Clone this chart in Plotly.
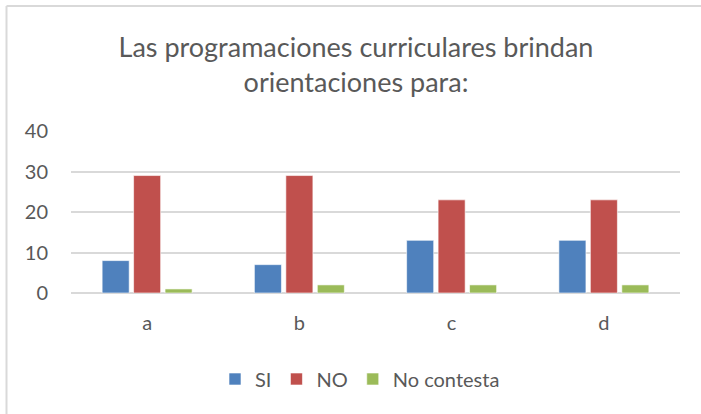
import plotly.graph_objects as go

categories = ["a", "b", "c", "d"]
si = [8, 7, 13, 13]
no = [29, 29, 23, 23]
no_contesta = [1, 2, 2, 2]
y_ticks = [0, 10, 20, 30, 40]

FONT = "Lato"
TXT = "#595959"

fig = go.Figure()
fig.add_trace(go.Bar(name="SI", x=categories, y=si, marker=dict(color="#4F81BD", line=dict(color="#ffffff", width=0.6))))
fig.add_trace(go.Bar(name="NO", x=categories, y=no, marker=dict(color="#C0504D", line=dict(color="#ffffff", width=0.6))))
fig.add_trace(go.Bar(name="No contesta", x=categories, y=no_contesta, marker=dict(color="#9BBB59", line=dict(color="#ffffff", width=0.6))))

L, R, T, B = 71, 21, 131, 121
W, H = 701, 414
pw, ph = W - L - R, H - T - B

def px(x):
    return (x - L) / pw

def py(y):
    return (H - B - y) / ph

fig.update_layout(
    width=W, height=H,
    margin=dict(l=L, r=R, t=T, b=B, pad=0),
    paper_bgcolor="white", plot_bgcolor="white",
    barmode="group", bargap=0.38, bargroupgap=0.14,
    font=dict(family=FONT, color=TXT, size=20),
    title=dict(text="Las programaciones curriculares brindan<br>orientaciones para:",
               x=px(356), xref="paper", xanchor="center",
               y=1 - 57 / H, yref="container", yanchor="middle",
               font=dict(family=FONT, size=27, color=TXT)),
    showlegend=True,
    legend=dict(orientation="h", x=px(360), xanchor="center", y=py(379), yanchor="middle",
                font=dict(family=FONT, size=20, color=TXT), itemwidth=30,
                traceorder="normal", bgcolor="rgba(0,0,0,0)"),
    xaxis=dict(showgrid=False, showline=False, zeroline=False, ticks="",
               ticklabelstandoff=16, tickfont=dict(size=20, color=TXT)),
    yaxis=dict(range=[0, 40], tickvals=y_ticks, showgrid=True, gridcolor="#d9d9d9", gridwidth=1.5,
               zeroline=True, zerolinecolor="#d9d9d9", zerolinewidth=1.5,
               showline=False, ticks="", ticklabelstandoff=22, tickfont=dict(size=20, color=TXT)),
    shapes=[
        dict(type="line", xref="paper", yref="paper", x0=px(6.5), x1=px(710), y0=py(6), y1=py(6),
             line=dict(color="#d9d9d9", width=2)),
        dict(type="line", xref="paper", yref="paper", x0=px(6.5), x1=px(6.5), y0=py(6), y1=py(420),
             line=dict(color="#d9d9d9", width=2)),
    ],
)

fig.write_html("out.html", config={"displayModeBar": False},
               post_script="document.body.style.margin='0';")
